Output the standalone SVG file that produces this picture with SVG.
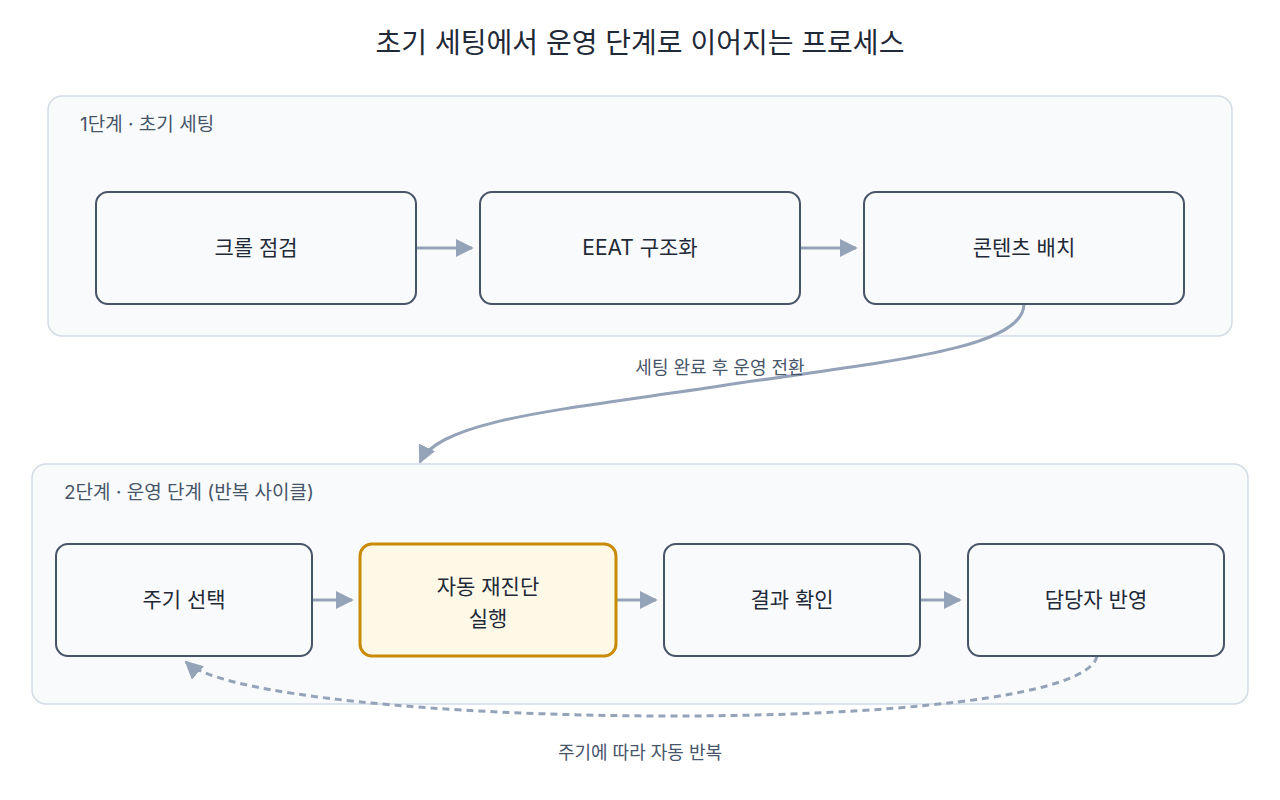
<svg xmlns="http://www.w3.org/2000/svg" width="1280" height="800" viewBox="0 0 1280 800">
<style>
text{font-family:Inter,"Noto Sans CJK KR",sans-serif;fill:#1f2937}
.cl{fill:#f8fafc;stroke:#d3dbe7;stroke-width:1.5}
.n{fill:#f8fafc;stroke:#475569;stroke-width:2}
.hl{fill:#fef9e7;stroke:#ca8a04;stroke-width:3}
.nt{font-size:21px;text-anchor:middle}
.ct{font-size:19px;fill:#475569}
.lb{font-size:18px;fill:#475569;text-anchor:middle}
.e{fill:none;stroke:#94a3b8;stroke-width:3}
</style>
<defs>
<marker id="a2" viewBox="0 0 10 10" refX="9" refY="5" markerWidth="18" markerHeight="18" orient="auto" markerUnits="userSpaceOnUse"><path d="M0,0L10,5L0,10z" fill="#94a3b8"/></marker>
</defs>
<rect width="1280" height="800" fill="#fff"/>
<text x="640" y="53" font-size="28" text-anchor="middle">초기 세팅에서 운영 단계로 이어지는 프로세스</text>
<g id="cluster1"><rect class="cl" x="48" y="96" width="1184" height="240" rx="14"/><text class="ct" x="80" y="131">1단계 · 초기 세팅</text></g>
<g id="connectors">
<path class="e" d="M1024,304 C1024,350 880,362 720,386 S440,420 420,462" marker-end="url(#a2)"/>
</g>
<g id="cluster2"><rect class="cl" x="32" y="464" width="1216" height="240" rx="14"/><text class="ct" x="64" y="499">2단계 · 운영 단계 (반복 사이클)</text></g>
<g id="connectors2">
<path class="e" d="M416,248H472" marker-end="url(#a2)"/>
<path class="e" d="M800,248H856" marker-end="url(#a2)"/>
<path class="e" d="M312,600H352" marker-end="url(#a2)"/>
<path class="e" d="M616,600H656" marker-end="url(#a2)"/>
<path class="e" d="M920,600H960" marker-end="url(#a2)"/>
<path class="e" d="M1097,656 C1080,740 260,730 186,662" stroke-dasharray="7 5" marker-end="url(#a2)"/>
</g>
<g id="n1"><rect class="n" x="96" y="192" width="320" height="112" rx="12"/><text class="nt" x="256" y="255">크롤 점검</text></g>
<g id="n2"><rect class="n" x="480" y="192" width="320" height="112" rx="12"/><text class="nt" x="640" y="255">EEAT 구조화</text></g>
<g id="n3"><rect class="n" x="864" y="192" width="320" height="112" rx="12"/><text class="nt" x="1024" y="255">콘텐츠 배치</text></g>
<g id="n4"><rect class="n" x="56" y="544" width="256" height="112" rx="12"/><text class="nt" x="184" y="607">주기 선택</text></g>
<g id="n5"><rect class="hl" x="360" y="544" width="256" height="112" rx="12"/><text class="nt" x="488" y="594">자동 재진단</text><text class="nt" x="488" y="626">실행</text></g>
<g id="n6"><rect class="n" x="664" y="544" width="256" height="112" rx="12"/><text class="nt" x="792" y="607">결과 확인</text></g>
<g id="n7"><rect class="n" x="968" y="544" width="256" height="112" rx="12"/><text class="nt" x="1096" y="607">담당자 반영</text></g>
<text class="lb" x="720" y="374">세팅 완료 후 운영 전환</text>
<text class="lb" x="640" y="759">주기에 따라 자동 반복</text>
</svg>
